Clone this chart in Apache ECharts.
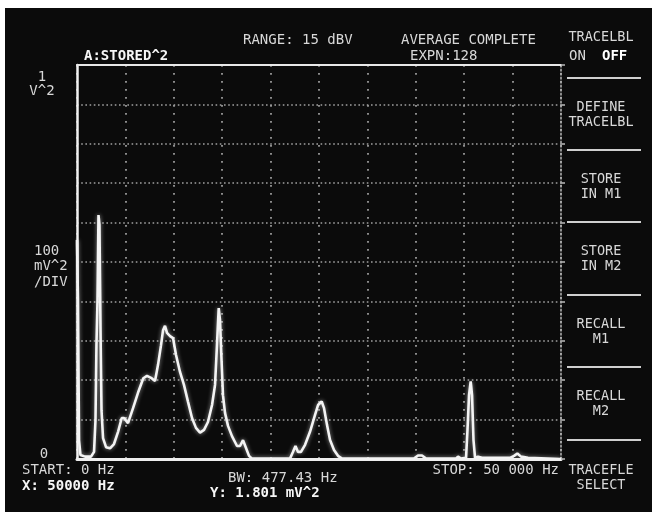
<!DOCTYPE html>
<html>
<head>
<meta charset="utf-8">
<script src="https://cdn.jsdelivr.net/npm/echarts@6/dist/echarts.min.js"></script>
<style>
  html, body { margin: 0; padding: 0; background: #ffffff; }
  #bg { position: absolute; left: 5px; top: 8px; width: 647px; height: 504px; background: #0b0b0b; }
  #chart { position: absolute; left: 0; top: 0; width: 652px; height: 515px; }
</style>
</head>
<body>
<div id="bg"></div>
<div id="chart"></div>
<script>
// Spectrum trace: frequency (Hz) and magnitude (V^2)
const freqHz = [0, 100, 210, 360, 830, 1450, 1760, 1910, 2010, 2120, 2220, 2320, 2430, 2530, 2690, 3000,
  3410, 3820, 4240, 4620, 4860, 5270, 5790, 6300, 6850, 7230, 7650, 8060, 8370, 8680, 8890, 9090,
  9300, 9610, 9920, 10230, 10640, 11050, 11470, 11880, 12290, 12710, 13120, 13530, 13950, 14260,
  14460, 14640, 14770, 14930, 15080, 15290, 15600, 16010, 16530, 16840, 17150, 17300, 17460, 17770,
  18080, 22000, 22310, 22570, 22830, 23140, 23560, 24070, 24590, 24900, 25280, 25520, 25830, 26140,
  26550, 26960, 27380, 34810, 35230, 35640, 36060, 39150, 39360, 39670, 40190, 40340, 40500, 40670,
  40810, 40960, 41120, 41430, 41840, 44730, 45150, 45490, 45870, 46590, 50000];
const levelV2 = [0.556, 0.404, 0.048, 0.010, 0.006, 0.006, 0.018, 0.099, 0.289, 0.404, 0.619, 0.594, 0.327, 0.124, 0.053, 0.030,
  0.027, 0.038, 0.069, 0.104, 0.104, 0.091, 0.129, 0.168, 0.205, 0.211, 0.206, 0.198, 0.239, 0.289, 0.327, 0.338,
  0.320, 0.312, 0.307, 0.264, 0.221, 0.188, 0.145, 0.104, 0.079, 0.067, 0.074, 0.094, 0.137, 0.188,
  0.289, 0.383, 0.353, 0.251, 0.162, 0.117, 0.084, 0.058, 0.033, 0.033, 0.048, 0.048, 0.028, 0.008,
  0.001, 0.001, 0.018, 0.033, 0.018, 0.018, 0.036, 0.069, 0.112, 0.137, 0.146, 0.129, 0.086, 0.048,
  0.023, 0.008, 0.001, 0.001, 0.009, 0.009, 0.001, 0.001, 0.006, 0.001, 0.003, 0.074, 0.162, 0.197,
  0.162, 0.048, 0.003, 0.006, 0.003, 0.003, 0.008, 0.014, 0.006, 0.003, 0];

// Screen annotations
const headerTexts = ['RANGE: 15 dBV', 'AVERAGE COMPLETE', 'EXPN:128'];
const traceName = 'A:STORED^2';
const yLabelsTop = ['1', 'V^2'];
const yLabelsMid = ['100', 'mV^2', '/DIV'];
const yLabelZero = '0';
const footerTexts = ['START: 0 Hz', 'BW: 477.43 Hz', 'STOP: 50 000 Hz'];
const markerTexts = ['X: 50000 Hz', 'Y: 1.801 mV^2'];
const softkeys = [['DEFINE', 'TRACELBL'], ['STORE', 'IN M1'], ['STORE', 'IN M2'], ['RECALL', 'M1'], ['RECALL', 'M2'], ['TRACEFLE', 'SELECT']];

const xMin = 0, xMax = 50000, xStep = 5000;
const yMin = 0, yMax = 1, yStep = 0.1;

const chart = echarts.init(document.getElementById('chart'), null, { renderer: 'canvas' });

const FONT = '"DejaVu Sans Mono", "Liberation Mono", monospace';
const TXT = '#d8d8d8';
const BRIGHT = '#f6f6f6';
function t(text, x, y, opts) {
  opts = opts || {};
  return {
    type: 'text', x: x, y: y, silent: true,
    style: {
      text: text, fill: opts.fill || TXT,
      font: (opts.bold ? 'bold ' : '') + (opts.size || 14) + 'px ' + FONT,
      align: opts.align || 'left', verticalAlign: 'middle',
      textAlign: opts.align || 'left', textVerticalAlign: 'middle'
    }
  };
}

const graphics = [];
graphics.push(t(headerTexts[0], 243, 40));
graphics.push(t(headerTexts[1], 401, 40));
graphics.push(t(headerTexts[2], 410, 56));
graphics.push(t(traceName, 84, 56, { bold: true, fill: BRIGHT }));
graphics.push(t('TRACELBL', 601, 37, { align: 'center', size: 13.5 }));
graphics.push(t('ON', 569, 56));
graphics.push(t('OFF', 602, 56, { bold: true, fill: '#ffffff' }));
graphics.push(t(yLabelsTop[0], 42, 77, { align: 'center' }));
graphics.push(t(yLabelsTop[1], 42, 91, { align: 'center' }));
graphics.push(t(yLabelsMid[0], 34, 251));
graphics.push(t(yLabelsMid[1], 34, 266));
graphics.push(t(yLabelsMid[2], 34, 282));
graphics.push(t(yLabelZero, 44, 454, { align: 'center' }));
graphics.push(t(footerTexts[0], 22, 470));
graphics.push(t(markerTexts[0], 22, 486, { bold: true, fill: BRIGHT }));
graphics.push(t(footerTexts[1], 228, 478));
graphics.push(t(markerTexts[1], 210, 493, { bold: true, fill: BRIGHT }));
graphics.push(t(footerTexts[2], 559, 470, { align: 'right' }));

const sepYs = [78, 150, 222, 295, 367, 440];
sepYs.forEach(function (yy) {
  graphics.push({ type: 'line', silent: true, shape: { x1: 567, y1: yy, x2: 641, y2: yy },
    style: { stroke: '#cfcfcf', lineWidth: 2 } });
});
const keyY = [107, 179, 251, 324, 396, 470];
softkeys.forEach(function (k, i) {
  graphics.push(t(k[0], 601, keyY[i], { align: 'center', size: 13.5 }));
  graphics.push(t(k[1], 601, keyY[i] + 15, { align: 'center', size: 13.5 }));
});

const data = freqHz.map(function (f, i) { return [f, levelV2[i]]; });

chart.setOption({
  backgroundColor: 'transparent',
  animation: false,
  grid: { left: 77, top: 65, width: 484, height: 394, containLabel: false },
  xAxis: [
    {
      type: 'value', min: xMin, max: xMax, interval: xStep, position: 'bottom',
      axisLine: { show: true, lineStyle: { color: '#eeeeee', width: 3 } },
      axisTick: { show: false }, axisLabel: { show: false },
      splitLine: { show: true, lineStyle: { color: '#9a9a9a', width: 1.8, type: [1.8, 6.2] } }
    },
    {
      type: 'value', min: xMin, max: xMax, interval: xStep, position: 'top',
      axisLine: { show: true, onZero: false, lineStyle: { color: '#e8e8e8', width: 2 } },
      axisTick: { show: false }, axisLabel: { show: false }, splitLine: { show: false }
    }
  ],
  yAxis: [
    {
      type: 'value', min: yMin, max: yMax, interval: yStep, position: 'left',
      axisLine: { show: true, onZero: false, lineStyle: { color: '#f2f2f2', width: 2.5 } },
      axisTick: { show: false }, axisLabel: { show: false },
      splitLine: { show: true, lineStyle: { color: '#a0a0a0', width: 1.6, type: [1.6, 2.6] } }
    },
    {
      type: 'value', min: yMin, max: yMax, interval: yStep, position: 'right',
      axisLine: { show: true, onZero: false, lineStyle: { color: '#b0b0b0', width: 1.6, type: [1.6, 2.4] } },
      axisTick: { show: true, inside: false, length: 4, lineStyle: { color: '#b0b0b0', width: 1.6 } },
      axisLabel: { show: false }, splitLine: { show: false }
    }
  ],
  series: [{
    type: 'line', xAxisIndex: 0, yAxisIndex: 0, data: data,
    showSymbol: false, symbol: 'none', smooth: false,
    lineStyle: { color: '#f4f4f4', width: 2.6, shadowBlur: 4, shadowColor: 'rgba(255,255,255,0.55)' },
    z: 5
  }],
  graphic: graphics
});
</script>
</body>
</html>
